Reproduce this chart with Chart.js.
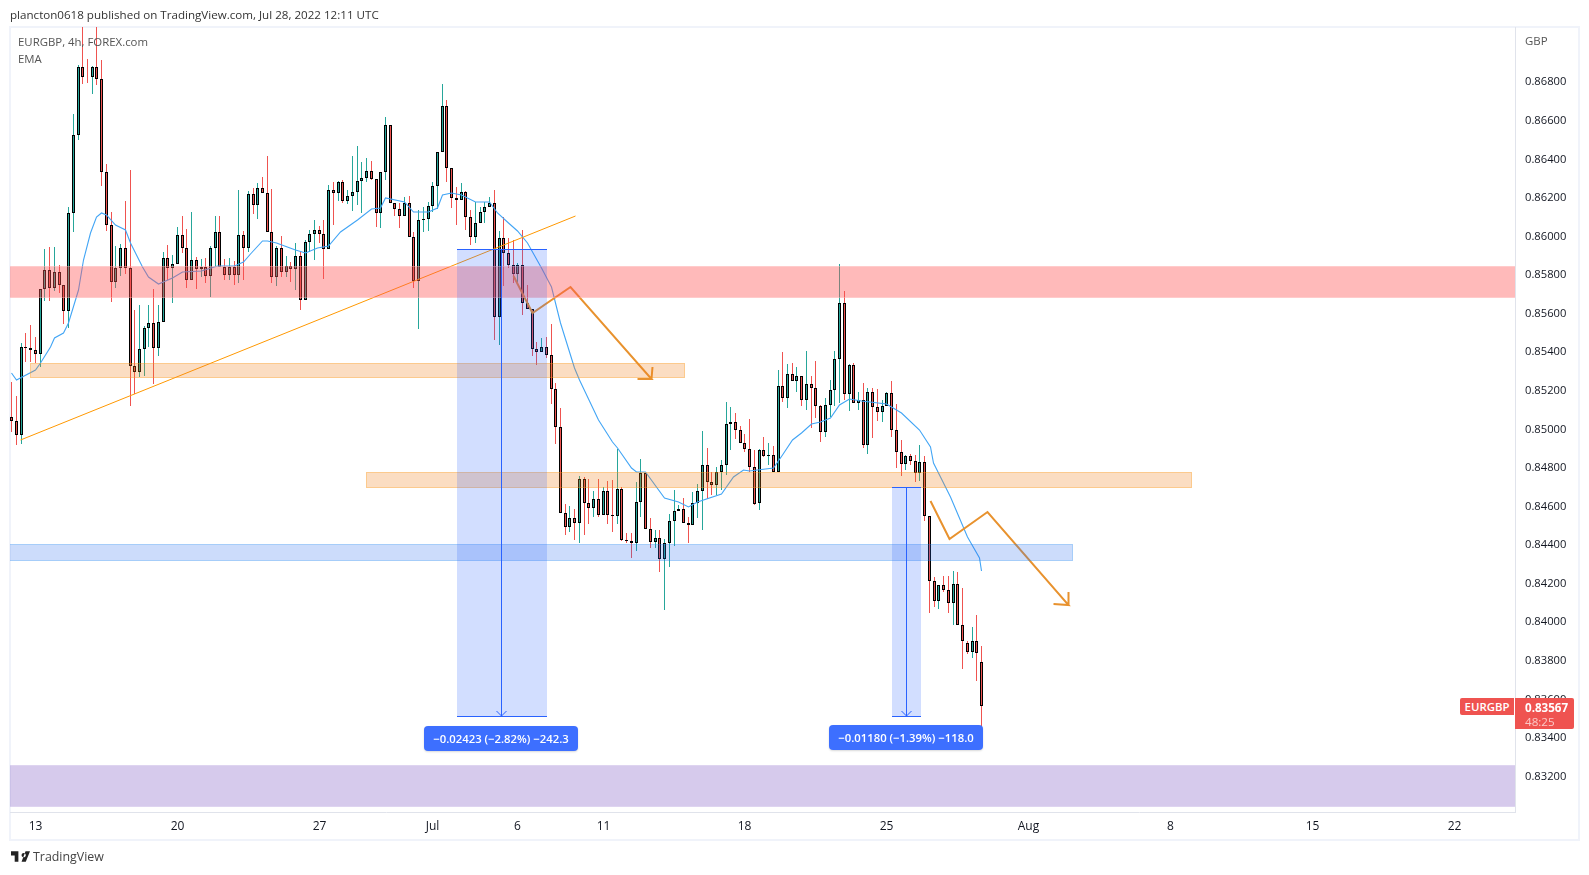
<!DOCTYPE html>
<html><head><meta charset="utf-8">
<style>
html,body{margin:0;padding:0;background:#fff;width:1589px;height:875px;overflow:hidden;font-family:"Open Sans",sans-serif}
#frame{position:absolute;left:9px;top:26px;width:1567px;height:811px;border:2px solid #f0f3fa}
canvas{position:absolute;left:0;top:0}
.t{position:absolute;white-space:nowrap;font-size:11.6px;line-height:16px}
.box{position:absolute;background:#3d6fff;color:#fff;border-radius:4px;text-align:center;font-size:11.3px;font-weight:600;line-height:25px;box-shadow:0 1px 2px rgba(0,0,0,.15)}
.tag{position:absolute;background:#ef5350;color:#fff}
</style>
</head><body>
<div id="frame"></div>
<canvas id="c" width="1589" height="875"></canvas>
<div class="t" style="left:10px;top:7px;color:#333">plancton0618 published on TradingView.com, Jul 28, 2022 12:11 UTC</div>
<div class="t" style="left:18px;top:34px;color:#555;font-size:11.4px">EURGBP, 4h, FOREX.com</div>
<div class="t" style="left:18px;top:51px;color:#555;font-size:11.4px">EMA</div>
<div class="t" style="left:1525px;top:33px;color:#555;font-size:11.4px">GBP</div>
<div class="box" style="left:424px;top:726px;width:154px;height:25px">−0.02423 (−2.82%) −242.3</div>
<div class="box" style="left:829px;top:725px;width:154px;height:25px">−0.01180 (−1.39%) −118.0</div>
<div class="tag" style="left:1460px;top:698px;width:54px;height:17px;border-radius:2px 0 0 2px;font-size:11.4px;line-height:17px;text-align:center;font-weight:600">EURGBP</div>
<div class="tag" style="left:1515px;top:698px;width:59px;height:31px;border-radius:0 2px 2px 0">
  <div style="font-size:11.6px;font-weight:700;line-height:15px;padding:2px 0 0 10px">0.83567</div>
  <div style="font-size:11.6px;line-height:13px;padding-left:10px;color:#fbc9c7">48:25</div>
</div>
<svg style="position:absolute;left:11px;top:851px" width="19" height="11" viewBox="0 0 36 20"><path d="M14 20H7V8H0V0h14zM28 20h-8L27.500 0H36zM20 7.500a4 4 0 1 0 0-.01z" fill="#222"/></svg>
<div class="t" style="left:33px;top:849px;color:#444;font-size:12.4px">TradingView</div>
<script src="https://cdn.jsdelivr.net/npm/chart.js@4"></script>
<script>
const opens=[.85066,.85043,.84973,.85426,.85421,.85414,.85393,.85727,.85825,.85735,
.85815,.85748,.85616,.86121,.86527,.86878,.86829,.86826,.86881,.86816,
.86337,.86059,.85766,.85836,.85940,.85836,.85329,.85300,.85416,.85525,
.85551,.85421,.85556,.85888,.85839,.85857,.86009,.85943,.85774,.85877,
.85831,.85844,.85797,.85940,.86023,.85841,.85803,.85844,.85803,.86007,
.85943,.86220,.86163,.86251,.86228,.86023,.85792,.85940,.85818,.85849,
.85834,.85898,.85670,.85971,.86012,.86033,.86012,.85934,.86240,.86228,
.86282,.86186,.86209,.86230,.86287,.86303,.86339,.86297,.86121,.86334,
.86577,.86173,.86142,.86109,.86173,.85997,.85772,.86085,.86091,.86157,
.86261,.86437,.86676,.86354,.86199,.86188,.86230,.86103,.85997,.86069,
.86126,.86152,.86173,.85585,.85991,.85917,.85855,.85806,.85855,.85657,
.85626,.85419,.85403,.85426,.85388,.85208,.85011,.84569,.84496,.84540,
.84517,.84742,.84621,.84595,.84638,.84558,.84681,.84558,.84553,.84692,
.84427,.84424,.84413,.84623,.84773,.84483,.84418,.84436,.84327,.84410,
.84524,.84576,.84586,.84517,.84503,.84617,.84680,.84814,.84729,.84714,
.84781,.84814,.85027,.85037,.84999,.84928,.84900,.84804,.84617,.84892,
.84864,.84866,.84781,.85226,.85162,.85286,.85253,.85276,.85155,.85234,
.85214,.85120,.84989,.85125,.85203,.85364,.85654,.85186,.85334,.85136,
.85151,.84921,.85193,.85115,.85089,.85120,.85188,.84996,.84882,.84820,
.84861,.84835,.84773,.84830,.84553,.84216,.84112,.84192,.84169,.84099,
.84197,.83988,.83891,.83848,.83902,.83793];
const closes=[.85043,.84973,.85426,.85421,.85414,.85393,.85727,.85825,.85735,.85815,
.85748,.85616,.86121,.86527,.86878,.86829,.86826,.86881,.86816,.86337,
.86059,.85766,.85836,.85940,.85836,.85329,.85300,.85416,.85525,.85551,
.85421,.85556,.85888,.85839,.85857,.86009,.85943,.85774,.85877,.85831,
.85844,.85797,.85940,.86023,.85841,.85803,.85844,.85803,.86007,.85943,
.86220,.86163,.86251,.86228,.86023,.85792,.85940,.85818,.85849,.85834,
.85898,.85670,.85971,.86012,.86033,.86012,.85934,.86240,.86228,.86282,
.86186,.86209,.86230,.86287,.86303,.86339,.86297,.86121,.86334,.86577,
.86173,.86142,.86109,.86173,.85997,.85772,.86085,.86091,.86157,.86261,
.86437,.86676,.86354,.86199,.86188,.86230,.86103,.85997,.86069,.86126,
.86152,.86173,.85585,.85991,.85917,.85855,.85806,.85855,.85657,.85626,
.85419,.85403,.85426,.85388,.85208,.85011,.84569,.84496,.84540,.84517,
.84742,.84621,.84595,.84638,.84558,.84681,.84558,.84553,.84692,.84427,
.84424,.84413,.84623,.84773,.84483,.84418,.84436,.84327,.84410,.84524,
.84576,.84586,.84517,.84503,.84617,.84680,.84814,.84729,.84714,.84781,
.84814,.85027,.85037,.84999,.84928,.84900,.84804,.84614,.84892,.84864,
.84866,.84781,.85226,.85162,.85286,.85253,.85276,.85155,.85234,.85214,
.85120,.84989,.85125,.85203,.85364,.85654,.85186,.85334,.85136,.85151,
.84921,.85193,.85115,.85089,.85120,.85188,.84996,.84882,.84820,.84861,
.84835,.84773,.84830,.84553,.84216,.84112,.84192,.84169,.84099,.84197,
.83988,.83902,.83848,.83902,.83840,.83567];
const highs=[.85248,.85174,.85447,.85499,.85542,.85481,.85727,.85934,.85948,.85948,
.85853,.85748,.86152,.86636,.86890,.87100,.86921,.86886,.87100,.86916,
.86377,.86128,.85951,.85962,.86185,.86346,.85620,.85646,.85537,.85646,
.85729,.85646,.85922,.85957,.85905,.86048,.86107,.86038,.86128,.85896,
.85884,.85888,.85951,.86107,.86107,.85883,.85888,.85875,.86242,.86029,
.86235,.86254,.86280,.86308,.86418,.86247,.85951,.86003,.85900,.85870,
.85965,.85922,.85983,.86034,.86086,.86055,.86086,.86268,.86285,.86289,
.86294,.86242,.86418,.86470,.86389,.86406,.86392,.86297,.86334,.86619,
.86577,.86173,.86176,.86207,.86211,.86026,.86138,.86155,.86181,.86285,
.86437,.86791,.86708,.86354,.86256,.86277,.86238,.86138,.86181,.86155,
.86181,.86207,.86242,.86029,.86100,.85991,.85983,.85862,.86034,.85749,
.85626,.85452,.85474,.85481,.85547,.85240,.85113,.84612,.84603,.84586,
.84759,.84752,.84743,.84683,.84743,.84700,.84733,.84738,.84899,.84700,
.84462,.84462,.84729,.84847,.84773,.84541,.84479,.84479,.84431,.84560,
.84686,.84609,.84643,.84548,.84678,.84717,.84992,.84903,.84781,.84804,
.84842,.85141,.85115,.85087,.85018,.84977,.85053,.84894,.84897,.84963,
.84930,.84915,.85309,.85402,.85338,.85343,.85324,.85276,.85407,.85277,
.85355,.85127,.85162,.85257,.85407,.85858,.85718,.85338,.85343,.85196,
.85240,.85214,.85214,.85209,.85153,.85196,.85252,.85132,.84946,.84868,
.84873,.84868,.84920,.84863,.84553,.84237,.84192,.84240,.84240,.84266,
.84260,.84178,.83902,.83976,.84038,.83877];
const lows=[.84989,.84920,.84925,.85352,.85352,.85343,.85323,.85668,.85668,.85720,
.85706,.85547,.85528,.86024,.86501,.86791,.86798,.86740,.86786,.86264,
.86031,.85663,.85735,.85796,.85806,.85123,.85183,.85274,.85277,.85429,
.85238,.85383,.85556,.85775,.85654,.85857,.85917,.85735,.85774,.85730,
.85792,.85761,.85689,.85844,.85841,.85775,.85775,.85751,.85758,.85775,
.85922,.86116,.86090,.86228,.86023,.85758,.85746,.85792,.85792,.85766,
.85723,.85620,.85670,.85922,.85879,.85965,.85780,.85934,.86060,.86185,
.86176,.86169,.86135,.86164,.86121,.86285,.86294,.86052,.86043,.86294,
.86173,.86109,.86046,.86109,.85997,.85735,.85519,.86026,.86031,.86129,
.86142,.86437,.86285,.86150,.86060,.86188,.86034,.85957,.85969,.86069,
.86069,.86152,.85464,.85438,.85744,.85837,.85758,.85766,.85594,.85626,
.85381,.85334,.85403,.85372,.85132,.84925,.84569,.84453,.84470,.84427,
.84413,.84453,.84510,.84548,.84548,.84558,.84510,.84470,.84510,.84422,
.84410,.84335,.84370,.84548,.84483,.84387,.84387,.84263,.84064,.84289,
.84398,.84576,.84517,.84410,.84503,.84543,.84479,.84638,.84660,.84662,
.84686,.84766,.84894,.84951,.84928,.84885,.84781,.84609,.84583,.84856,
.84816,.84781,.84781,.85143,.85113,.85253,.85196,.85123,.85103,.85009,
.85061,.84937,.84963,.85066,.85122,.85136,.85153,.85098,.85136,.85101,
.84906,.84873,.84958,.85046,.85041,.85120,.84963,.84799,.84759,.84790,
.84816,.84729,.84735,.84526,.84050,.84081,.84071,.84159,.84050,.83988,
.83988,.83760,.83836,.83817,.83698,.83463];

const emaBars=[0,1,5,6,8.2,9,11,12,14,15.2,16.6,18,19,20,22,24,25,27.6,29,31,34,36,40,43.4,47,49,50.5,53,54,56,60,62,64.6,67,69.5,73,76,78,79,83,85,88,90,91,93,95,98,101,102.6,105,107,109,112,114,116,119,120,124,127,128,131,132,134,138,141,143,145,150,152.6,154.6,156,161,163,165,167,169,171,173,175,177,179.6,185,188,192,194.2,194.9,196.3,198.5,202,204.5,205];
const emaValues=[.85291,.85257,.85309,.85345,.85429,.85474,.85500,.85552,.85723,.85879,.86019,.86103,.86123,.86112,.86060,.86034,.85967,.85844,.85792,.85754,.85786,.85817,.85823,.85849,.85849,.85869,.85910,.85979,.85979,.85967,.85931,.85915,.85941,.85953,.86026,.86086,.86143,.86149,.86199,.86181,.86129,.86128,.86147,.86216,.86225,.86216,.86181,.86180,.86123,.86071,.86031,.85965,.85837,.85740,.85552,.85319,.85257,.85049,.84937,.84904,.84800,.84780,.84780,.84645,.84624,.84600,.84626,.84666,.84755,.84790,.84786,.84800,.84868,.84946,.84983,.85029,.85037,.85060,.85127,.85158,.85149,.85132,.85086,.84997,.84911,.84826,.84755,.84652,.84444,.84334,.84268];

const xTickBars=[5,35,65,89,107,125,155,185,215,245,275,305];
const xTickLabels=['13','20','27','Jul','6','11','18','25','Aug','8','15','22'];
const yTicks=[.868,.866,.864,.862,.86,.858,.856,.854,.852,.85,.848,.846,.844,.842,.84,.838,.836,.834,.832];

const trendBars=[1.84,119.1];
const trendValues=[.84944,.86108];
const arrowOneBars=[106.1,110.1,118.1,135.2,132.2,135.2,135.4];
const arrowOneValues=[.85796,.85606,.85737,.85262,.85262,.85262,.85326];
const arrowTwoBars=[194.2,198.2,206.2,223.5,220.3,223.5,223.5];
const arrowTwoValues=[.84629,.84432,.84572,.84090,.84095,.84090,.84159];

const zoneStart=[-1,4,74.9,-1,-1];
const zoneEnd=[318,142.2,249.4,224.3,318];
const zoneTop=[.85848,.85343,.84778,.84406,.83259];
const zoneBottom=[.85683,.85269,.84698,.84320,.83044];
const zoneFill=['rgba(255,82,82,.4)','rgba(240,130,30,.27)','rgba(240,130,30,.27)','rgba(41,110,240,.24)','rgba(103,58,183,.27)'];
const zoneEdge=['rgba(255,255,255,.25)','rgba(255,160,20,.3)','rgba(255,160,20,.3)','rgba(33,150,243,.22)','rgba(255,255,255,.2)'];

const measureStart=[94.2,186.2];
const measureEnd=[113,192.1];
const measureMid=[103.5,189.2];
const measureTop=[.85938,.84700];
const measureBottom=[.83515,.83516];

const UP='#26a69a',DOWN='#ef5350';
const idx=opens.map((_,i)=>i);
const colors=idx.map(i=>closes[i]>=opens[i]?UP:DOWN);

function snap(scale,mode){
  if(scale._snapped)return;scale._snapped=true;
  const f=scale.getPixelForValue.bind(scale);
  scale.getPixelForValue=mode==='x'?(v=>Math.round(f(v))+.5):(v=>Math.round(f(v)));
}
const pts=(a,b)=>a.map((x,i)=>({x,y:b[i]}));

const overlay={id:'overlay',afterDatasetsDraw(c){
  const {ctx,chartArea:a,scales:{x,y}}=c;
  ctx.save();ctx.beginPath();ctx.rect(a.left,a.top,a.right-a.left,a.bottom-a.top);ctx.clip();
  zoneStart.forEach((_,i)=>{
    const l=x.getPixelForValue(zoneStart[i])-.5,r=x.getPixelForValue(zoneEnd[i])+.5,t=y.getPixelForValue(zoneTop[i]),b=y.getPixelForValue(zoneBottom[i]);
    ctx.fillStyle=zoneFill[i];ctx.fillRect(l,t,r-l,b-t);
    ctx.strokeStyle=zoneEdge[i];ctx.lineWidth=1;ctx.strokeRect(l+.5,t+.5,r-l-1,b-t-1);
  });
  measureStart.forEach((_,i)=>{
    const l=x.getPixelForValue(measureStart[i])-.5,r=x.getPixelForValue(measureEnd[i])+.5,m=x.getPixelForValue(measureMid[i]),t=y.getPixelForValue(measureTop[i]),b=y.getPixelForValue(measureBottom[i]);
    ctx.fillStyle='rgba(41,98,255,.21)';ctx.fillRect(l,t,r-l,b-t);
    ctx.strokeStyle='#2962ff';ctx.lineWidth=1;ctx.beginPath();
    ctx.moveTo(l,t+.5);ctx.lineTo(r,t+.5);ctx.moveTo(l,b+.5);ctx.lineTo(r,b+.5);
    ctx.moveTo(m,t);ctx.lineTo(m,b);
    ctx.moveTo(m-5,b-5);ctx.lineTo(m,b);ctx.lineTo(m+5,b-5);
    ctx.stroke();
  });
  ctx.restore();
}};

new Chart(document.getElementById('c'),{
  type:'bar',
  data:{datasets:[
    {type:'bar',label:'wick',order:6,grouped:false,barThickness:1,borderWidth:0,inflateAmount:0,
      data:idx.map(i=>({x:i,y:[lows[i],highs[i]]})),backgroundColor:colors},
    {type:'bar',label:'EURGBP',order:5,grouped:false,barThickness:3,borderWidth:1,borderSkipped:false,inflateAmount:0,borderColor:'#000',
      data:idx.map(i=>({x:i,y:[Math.min(opens[i],closes[i]),Math.max(opens[i],closes[i])]})),backgroundColor:colors},
    {type:'line',label:'EMA',order:4,data:pts(emaBars,emaValues),borderColor:'#42a5f5',borderWidth:1.1,pointRadius:0,tension:0},
    {type:'line',label:'trend',order:3,data:pts(trendBars,trendValues),borderColor:'#ff9800',borderWidth:1,pointRadius:0,tension:0},
    {type:'line',label:'path 1',order:2,data:pts(arrowOneBars,arrowOneValues),borderColor:'#e8922e',borderWidth:2,pointRadius:0,tension:0},
    {type:'line',label:'path 2',order:1,data:pts(arrowTwoBars,arrowTwoValues),borderColor:'#e8922e',borderWidth:2,pointRadius:0,tension:0}
  ]},
  options:{
    responsive:false,animation:false,devicePixelRatio:1,
    layout:{padding:{left:10,top:27,right:10,bottom:35}},
    plugins:{legend:{display:false},tooltip:{enabled:false}},
    scales:{
      x:{type:'linear',offset:false,min:-0.275,max:317.9,position:'bottom',
        grid:{display:false,offset:false,drawTicks:false},border:{color:'#e0e3eb',width:1},
        afterBuildTicks:s=>{s.ticks=xTickBars.map(value=>({value}));snap(s,'x');},
        afterFit:s=>{s.height=28;},
        ticks:{autoSkip:false,maxRotation:0,padding:7,color:'#131722',font:{family:'"Open Sans",sans-serif',size:12},
          callback:v=>xTickLabels[xTickBars.indexOf(v)]||''}},
      y:{type:'linear',position:'right',min:.83017,max:.87087,
        grid:{display:false,drawTicks:false},border:{color:'#e0e3eb',width:1},
        afterBuildTicks:s=>{s.ticks=yTicks.map(value=>({value}));snap(s,'y');},
        afterFit:s=>{s.width=64;},
        ticks:{autoSkip:false,padding:10,color:'#131722',font:{family:'"Open Sans",sans-serif',size:11.2},
          callback:v=>v.toFixed(5)}}
    }
  },
  plugins:[overlay]
});
</script>
</body></html>
